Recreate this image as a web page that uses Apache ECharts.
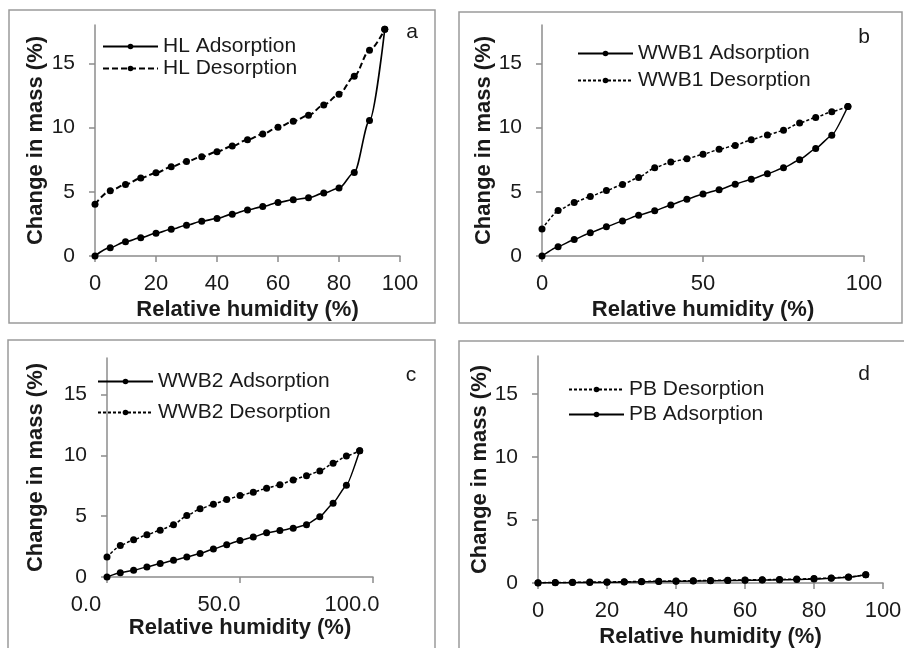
<!DOCTYPE html>
<html>
<head>
<meta charset="utf-8">
<script src="https://cdn.jsdelivr.net/npm/echarts@6/dist/echarts.min.js"></script>
<style>
html,body{margin:0;padding:0;background:#fff;}
#chart{width:904px;height:648px;}
</style>
</head>
<body>
<div id="chart"></div>
<script>
// ---- data ----
var rh = [0,5,10,15,20,25,30,35,40,45,50,55,60,65,70,75,80,85,90,95];

var hlAds = [0,0.65,1.12,1.43,1.77,2.08,2.4,2.71,2.92,3.26,3.59,3.85,4.17,4.38,4.53,4.9,5.29,6.51,10.55,17.66];
var hlDes = [4.03,5.08,5.57,6.07,6.48,6.95,7.37,7.73,8.13,8.57,9.06,9.5,10.03,10.5,10.96,11.77,12.6,14.0,16.04,17.66];

var wwb1Ads = [0,0.72,1.28,1.82,2.28,2.73,3.17,3.52,3.98,4.43,4.84,5.16,5.6,5.99,6.4,6.87,7.5,8.37,9.41,11.65];
var wwb1Des = [2.11,3.54,4.17,4.64,5.1,5.57,6.12,6.88,7.32,7.58,7.92,8.31,8.62,9.06,9.43,9.79,10.36,10.8,11.25,11.65];

var wwb2Ads = [0,0.35,0.56,0.82,1.1,1.37,1.64,1.93,2.3,2.65,3.01,3.29,3.63,3.82,4.0,4.3,4.95,6.07,7.54,10.38];
var wwb2Des = [1.64,2.59,3.06,3.47,3.85,4.29,5.05,5.6,5.98,6.36,6.69,6.97,7.3,7.59,7.98,8.33,8.71,9.34,9.94,10.38];

var pbAds = [0,0.02,0.03,0.04,0.05,0.07,0.09,0.11,0.13,0.15,0.17,0.19,0.21,0.23,0.25,0.28,0.32,0.37,0.45,0.65];
var pbDes = [0.02,0.04,0.05,0.07,0.08,0.1,0.12,0.14,0.16,0.18,0.2,0.22,0.24,0.26,0.28,0.31,0.35,0.4,0.48,0.65];

var yTicks = [0,5,10,15];
var xTitle = 'Relative humidity (%)';
var yTitle = 'Change in mass (%)';
var panelLetters = ['a','b','c','d'];

// ---- helpers ----
var FONT = '"Liberation Sans", Arial, sans-serif';
var AXIS_COLOR = '#8c8c8c';
var TEXT_COLOR = '#1a1a1a';

function pairs(xs, ys){ return xs.map(function(x,i){ return [x, ys[i]]; }); }

function xAxis(idx, interval, nameGap, fmt, labelPad){
  return {
    type:'value', gridIndex: idx, min:0, max:100, interval: interval,
    name: xTitle, nameLocation:'middle', nameGap: nameGap,
    nameTextStyle:{fontFamily:FONT, fontSize:22, fontWeight:'bold', color:TEXT_COLOR},
    axisLine:{show:true, onZero:false, lineStyle:{color:AXIS_COLOR, width:1.5}},
    axisTick:{show:true, length:6, lineStyle:{color:AXIS_COLOR, width:1.5}},
    splitLine:{show:false},
    axisLabel:{fontFamily:FONT, fontSize:22, color:TEXT_COLOR, margin:17,
      formatter: fmt || function(v){return String(v);}, padding: labelPad || 0}
  };
}
function yAxis(idx, nameGap){
  return {
    type:'value', gridIndex: idx, min:0, max:18, interval:5,
    name: yTitle, nameLocation:'middle', nameGap: nameGap,
    nameTextStyle:{fontFamily:FONT, fontSize:22, fontWeight:'bold', color:TEXT_COLOR},
    axisLine:{show:true, onZero:false, lineStyle:{color:AXIS_COLOR, width:1.5}},
    axisTick:{show:true, length:6, customValues: yTicks, lineStyle:{color:AXIS_COLOR, width:1.5}},
    splitLine:{show:false},
    axisLabel:{fontFamily:FONT, fontSize:21, color:TEXT_COLOR, margin:20, customValues: yTicks}
  };
}
function series(name, idx, xs, ys, dashed, smooth, dashArr, lw){
  return {
    name:name, type:'line', xAxisIndex: idx, yAxisIndex: idx,
    data: pairs(xs, ys), smooth: smooth, smoothMonotone:'x',
    symbol:'circle', symbolSize:7, showSymbol:true,
    itemStyle:{color:'#000'},
    lineStyle:{color:'#000', width: lw, type: dashed ? dashArr : 'solid'},
    emphasis:{disabled:true}, animation:false
  };
}
function legend(name, left, centerY){
  return {
    data:[name], left:left, top:centerY-9, orient:'vertical', padding:0,
    itemWidth:55, itemHeight:7, itemGap:0, selectedMode:false,
    textStyle:{fontFamily:FONT, fontSize:21, color:TEXT_COLOR}
  };
}

var option = {
  backgroundColor:'#ffffff',
  animation:false,
  grid:[
    {left:95, top:25, width:305, height:231, containLabel:false, outerBoundsMode:'none'},
    {left:542, top:25, width:322, height:231, containLabel:false, outerBoundsMode:'none'},
    {left:107, top:358, width:266, height:219, containLabel:false, outerBoundsMode:'none'},
    {left:538, top:356, width:345, height:227, containLabel:false, outerBoundsMode:'none'}
  ],
  xAxis:[
    xAxis(0, 20, 43),
    xAxis(1, 50, 43),
    xAxis(2, 50, 40, function(v){return v.toFixed(1);}, [0,42,0,0]),
    xAxis(3, 20, 43)
  ],
  yAxis:[
    yAxis(0, 48),
    yAxis(1, 45),
    yAxis(2, 60),
    yAxis(3, 47)
  ],
  legend:[
    legend('HL Adsorption', 102, 45),
    legend('HL Desorption', 102, 67),
    legend('WWB1 Adsorption', 577, 52),
    legend('WWB1 Desorption', 577, 79),
    legend('WWB2 Adsorption', 97, 380),
    legend('WWB2 Desorption', 97, 411),
    legend('PB Desorption', 568, 388),
    legend('PB Adsorption', 568, 413)
  ],
  series:[
    series('HL Adsorption', 0, rh, hlAds, false, 0.3, null, 1.6),
    series('HL Desorption', 0, rh, hlDes, true, 0.3, [6,3], 2),
    series('WWB1 Adsorption', 1, rh, wwb1Ads, false, 0.15, null, 1.5),
    series('WWB1 Desorption', 1, rh, wwb1Des, true, 0.15, [3,2], 1.5),
    series('WWB2 Adsorption', 2, rh, wwb2Ads, false, 0.15, null, 1.5),
    series('WWB2 Desorption', 2, rh, wwb2Des, true, 0.15, [3,2], 1.5),
    series('PB Desorption', 3, rh, pbDes, true, 0.15, [3,2], 1.5),
    series('PB Adsorption', 3, rh, pbAds, false, 0.15, null, 1.5)
  ],
  graphic:[
    {type:'rect', shape:{x:9, y:10, width:426, height:313}, style:{fill:'none', stroke:'#9a9a9a', lineWidth:1.5}, silent:true},
    {type:'rect', shape:{x:459, y:12, width:443, height:311}, style:{fill:'none', stroke:'#9a9a9a', lineWidth:1.5}, silent:true},
    {type:'rect', shape:{x:8, y:340, width:427, height:330}, style:{fill:'none', stroke:'#9a9a9a', lineWidth:1.5}, silent:true},
    {type:'rect', shape:{x:459, y:341, width:460, height:330}, style:{fill:'none', stroke:'#9a9a9a', lineWidth:1.5}, silent:true},
    {type:'text', x:412, y:32, style:{text:panelLetters[0], font:'21px "Liberation Sans", Arial', fill:TEXT_COLOR, textAlign:'center', textVerticalAlign:'middle'}},
    {type:'text', x:864, y:37, style:{text:panelLetters[1], font:'21px "Liberation Sans", Arial', fill:TEXT_COLOR, textAlign:'center', textVerticalAlign:'middle'}},
    {type:'text', x:411, y:375, style:{text:panelLetters[2], font:'21px "Liberation Sans", Arial', fill:TEXT_COLOR, textAlign:'center', textVerticalAlign:'middle'}},
    {type:'text', x:864, y:374, style:{text:panelLetters[3], font:'21px "Liberation Sans", Arial', fill:TEXT_COLOR, textAlign:'center', textVerticalAlign:'middle'}}
  ]
};

var chart = echarts.init(document.getElementById('chart'), null, {renderer:'canvas'});
chart.setOption(option);
</script>
</body>
</html>
